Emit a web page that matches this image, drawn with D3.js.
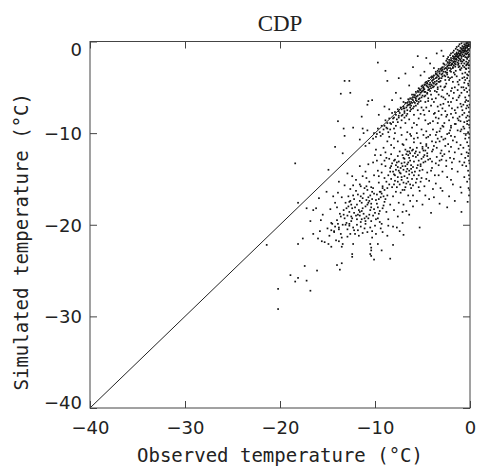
<!DOCTYPE html>
<html>
<head>
<meta charset="utf-8">
<script src="https://cdn.jsdelivr.net/npm/d3@7"></script>
<style>
  body { margin: 0; background: #fff; }
  svg text { fill: #222; }
</style>
</head>
<body>
<svg id="chart" width="477" height="476"></svg>
<script>
const title = "CDP";
const xLabel = "Observed temperature (\u00B0C)";
const yLabel = "Simulated temperature (\u00B0C)";
const obsTicks = [-40, -30, -20, -10, 0];
const simTicks = [-40, -30, -20, -10, 0];
const oneToOne = [[-40, -40], [0, 0]];

// [observed, simulated] pairs
const cornerPts = [[-0.1,0.2],[-0.2,0.1],[-0.3,-0.1],[-0.1,-0.3],[-0.4,-0.2],[-0.5,-0.4],[-0.2,-0.5],[-0.6,-0.3],[-0.7,-0.6],[-0.3,-0.7],[-0.8,-0.5],[-0.9,-0.9],[-0.5,-0.8],[-1.0,-0.7],[-1.1,-1.0],[-0.6,-1.1],[-1.2,-1.3],[-1.3,-0.9],[-0.8,-1.4],[-1.4,-1.2],[-1.5,-1.6],[-1.0,-1.5],[-1.6,-1.4],[-1.7,-1.9],[-1.2,-1.8],[-1.8,-1.6],[-1.9,-2.1],[-1.4,-2.0],[-2.0,-1.8],[-2.1,-2.3],[-1.6,-2.4],[-2.2,-2.0],[-2.3,-2.6],[-0.1,-0.8],[-0.2,-1.2],[-0.1,-1.6],[-0.3,-1.9],[-0.2,-2.3],[-0.4,-1.4],[-0.5,-1.7],[-0.7,-2.0],[-0.9,-2.4],[-0.4,-2.6],[-0.6,-2.8],[-1.1,-2.7],[-0.3,0.0],[-0.6,0.1],[-0.9,-0.2],[-1.2,-0.5],[-1.5,-0.8],[-1.8,-1.2],[-2.1,-1.5],[-2.4,-1.9],[-0.05,-0.05],[-0.15,-0.35],[-0.35,-0.45],[-0.45,-0.65],[-0.65,-0.75],[-0.75,-0.95],[-0.85,-1.15],[-0.95,-1.25],[-1.05,-1.35],[-1.15,-1.55],[-1.25,-1.65],[-1.35,-1.45],[-1.45,-1.85],[-1.55,-1.95],[-1.65,-2.15],[-1.75,-2.25],[-1.85,-2.45],[-1.95,-2.55],[-0.25,-0.15],[-0.55,-0.55],[-0.85,-0.75],[-1.15,-1.05],[-1.45,-1.35],[-1.75,-1.65],[-2.05,-2.05],[-2.35,-2.25],[-0.1,-0.5],[-0.3,-1.0],[-0.5,-1.3],[-0.7,-1.6],[-0.2,-1.7],[-0.1,-2.1],[-0.4,-2.2],[-0.8,-2.2],[-1.3,-2.3],[-1.0,-2.0],[-0.6,-2.4],[-0.05,-1.0],[-0.05,-1.4],[-0.15,-2.6],[-0.2,0.25],[-0.5,0.15],[-0.8,0.0],[-1.1,-0.3],[-1.4,-0.6],[-1.7,-1.0],[-2.0,-1.3],[-2.3,-1.7],[-2.5,-2.1]];

const lineBand = [[-2.6,-2.9],[-2.7,-2.5],[-2.8,-3.3],[-2.9,-2.8],[-3.0,-3.6],[-3.1,-3.0],[-3.2,-3.5],[-3.3,-4.1],[-3.4,-3.2],[-3.5,-3.9],[-3.6,-3.5],[-3.7,-4.4],[-3.8,-3.7],[-3.9,-4.2],[-4.0,-4.8],[-4.1,-3.9],[-4.2,-4.5],[-4.3,-5.2],[-4.4,-4.3],[-4.5,-4.9],[-4.6,-4.4],[-4.7,-5.5],[-4.8,-4.7],[-4.9,-5.3],[-5.0,-5.9],[-5.1,-4.9],[-5.2,-5.6],[-5.3,-5.2],[-5.4,-6.3],[-5.5,-5.4],[-5.6,-6.0],[-5.7,-5.5],[-5.8,-6.7],[-5.9,-5.8],[-6.0,-6.4],[-6.1,-5.8],[-6.2,-7.0],[-6.3,-6.2],[-6.4,-6.9],[-6.5,-6.3],[-6.6,-7.5],[-6.8,-6.7],[-6.9,-7.3],[-7.0,-6.6],[-7.1,-8.0],[-7.3,-7.2],[-7.4,-7.8],[-7.6,-7.4],[-7.7,-8.5],[-7.9,-7.7],[-8.0,-8.3],[-8.2,-7.8],[-8.3,-9.0],[-8.5,-8.4],[-8.7,-8.9],[-8.9,-8.6],[-9.1,-9.6],[-9.3,-9.2],[-9.5,-9.9],[-9.7,-9.5],[-9.9,-10.4],[-10.1,-10.0],[-2.5,-3.4],[-2.6,-3.8],[-2.8,-2.4],[-3.0,-2.9],[-3.2,-4.4],[-3.3,-3.0],[-3.5,-4.6],[-3.6,-3.3],[-3.8,-4.9],[-4.0,-3.8],[-4.1,-5.1],[-4.3,-4.0],[-4.5,-5.7],[-4.7,-4.5],[-4.8,-6.0],[-5.0,-4.8],[-5.2,-6.5],[-5.4,-5.1],[-5.5,-6.8],[-5.7,-6.2],[-5.9,-7.1],[-6.1,-6.7],[-6.3,-7.6],[-6.5,-6.9],[-6.7,-8.1],[-6.9,-7.6],[-7.2,-8.6],[-7.5,-8.1],[-7.8,-9.2],[-8.1,-8.8],[-8.4,-9.6],[-8.8,-9.4],[-9.2,-10.1],[-2.9,-3.5],[-3.4,-3.7],[-3.9,-4.5],[-4.4,-5.0],[-4.9,-5.0],[-5.3,-5.8],[-5.8,-6.1],[-6.2,-6.6],[-6.6,-7.0],[-7.0,-7.3],[-7.5,-7.6]];

const lineBand2 = [[-0.3,-0.6],[-0.7,-1.2],[-1.0,-1.1],[-1.3,-1.7],[-1.6,-1.8],[-1.9,-2.4],[-2.2,-2.4],[-2.4,-3.1],[-2.7,-3.0],[-3.0,-3.2],[-3.3,-3.8],[-3.6,-4.0],[-3.9,-3.9],[-4.2,-4.9],[-4.5,-4.6],[-4.8,-5.2],[-5.1,-5.5],[-5.4,-5.5],[-5.7,-6.4],[-6.0,-6.1],[-6.3,-6.8],[-6.6,-6.7],[-6.9,-7.8],[-7.2,-7.4],[-7.5,-8.3],[-7.8,-8.0],[-8.1,-8.4],[-8.4,-8.9],[-8.7,-9.5],[-9.0,-9.2],[-9.4,-10.3],[-9.8,-10.1],[-10.2,-10.6],[-10.6,-11.1],[-11.0,-11.4],[-1.1,-1.9],[-1.5,-2.2],[-1.8,-2.8],[-2.1,-2.9],[-2.4,-2.7],[-0.5,-1.0],[-0.9,-1.6],[-1.2,-2.4],[-1.7,-2.6],[-2.0,-3.3],[-2.3,-3.9],[-2.6,-4.2],[-3.1,-4.3],[-3.4,-5.0],[-3.7,-5.4],[-4.1,-5.8],[-4.4,-6.2],[-4.7,-6.6],[-5.1,-7.2],[-5.5,-7.5],[-5.9,-8.0],[-6.4,-8.5],[-6.8,-8.9],[-7.3,-9.4],[-7.9,-10.0],[-8.5,-10.4],[-2.2,-2.6],[-2.5,-2.9],[-2.9,-3.1],[-3.2,-3.3],[-3.5,-3.6],[-3.8,-4.1],[-4.0,-4.3],[-4.3,-4.7],[-4.6,-4.8],[-4.9,-5.1],[-5.2,-5.3],[-5.5,-5.9],[-5.8,-5.9],[-6.1,-6.3],[-6.4,-6.6],[-6.7,-7.2],[-7.0,-7.1]];

const nearExtra = [[-0.2,-0.9],[-0.4,-1.1],[-0.6,-1.5],[-0.9,-1.8],[-1.2,-2.1],[-1.5,-2.5],[-1.8,-2.9],[-2.1,-3.2],[-2.4,-3.4],[-2.7,-3.7],[-3.0,-4.0],[-3.3,-4.4],[-3.6,-4.7],[-3.9,-5.0],[-4.2,-5.4],[-4.5,-5.6],[-4.8,-5.5],[-5.1,-6.1],[-5.4,-6.6],[-5.7,-7.0],[-6.0,-7.3],[-6.3,-7.2],[-6.6,-7.9],[-6.9,-8.3],[-7.2,-8.1],[-7.6,-8.8],[-8.0,-9.5],[-8.6,-9.9],[-0.3,-1.3],[-0.7,-1.0],[-1.1,-1.4],[-1.4,-1.6],[-1.7,-2.2],[-2.0,-2.6],[-2.3,-2.9],[-2.6,-3.3],[-2.9,-3.8],[-3.2,-4.0],[-3.5,-4.3],[-3.8,-4.6],[-4.1,-4.7],[-4.4,-5.3],[-4.7,-5.9],[-5.0,-5.4],[-5.3,-6.2],[-5.6,-6.5],[-5.9,-6.6],[-6.2,-7.4],[-1.0,-3.1],[-1.6,-3.6],[-2.1,-4.0],[-0.5,-4.2],[-1.3,-4.4],[-2.6,-4.9],[-3.4,-5.2],[-0.9,-5.0],[-1.7,-5.6],[-2.8,-6.1],[-4.0,-6.3],[-1.2,-6.1],[-2.0,-6.6],[-3.1,-6.9],[-4.6,-7.2],[-0.7,-6.9],[-1.6,-7.5],[-2.9,-7.3],[-3.7,-7.8],[-5.2,-7.9],[-1.0,-8.7],[-2.4,-8.0],[-3.4,-8.9],[-4.7,-8.6],[-5.9,-8.9],[-0.6,-9.5],[-2.1,-9.7],[-3.5,-9.9],[-4.9,-10.2],[-6.6,-9.9],[-0.25,-0.45],[-0.55,-0.95],[-0.15,-1.45],[-0.35,-1.75],[-0.65,-2.05],[-0.25,-2.45],[-0.95,-2.15],[-1.25,-2.55],[-0.75,-2.65],[-0.45,-2.95],[-1.55,-2.75],[-1.05,-3.05]];

const aboveLine = [[-9.7,-2.3],[-8.9,-3.2],[-8.7,-4.3],[-10.3,-6.4],[-10.7,-6.5],[-7.5,-4.0],[-6.8,-3.5],[-6.0,-2.8],[-5.5,-1.6],[-4.6,-1.8],[-4.2,-2.4],[-3.5,-1.3],[-3.0,-1.0],[-7.8,-5.6],[-8.2,-6.4],[-9.0,-7.1],[-5.2,-3.7],[-6.4,-4.8],[-7.3,-6.2],[-4.8,-3.3],[-9.6,-8.0],[-8.5,-7.4],[-2.8,-1.6],[-3.8,-2.9],[-11.4,-8.2],[-10.8,-6.9],[-13.2,-4.3],[-12.7,-4.3],[-13.6,-5.7],[-12.6,-5.6],[-13.9,-8.7],[-12.3,-9.4],[-13.3,-9.5],[-11.3,-9.5],[-10.8,-9.7],[-11.2,-10.0],[-11.6,-10.7],[-13.2,-10.3],[-14.2,-11.5],[-13.4,-12.2],[-18.4,-13.3]];

const belowLine = [[-1.5,-3.2],[-0.8,-3.5],[-1.9,-3.9],[-1.1,-4.2],[-2.5,-4.6],[-0.6,-4.5],[-1.6,-5.0],[-2.9,-5.3],[-0.9,-5.6],[-2.2,-5.9],[-3.6,-6.2],[-1.4,-6.4],[-0.5,-6.1],[-2.8,-6.8],[-4.1,-7.0],[-1.9,-7.3],[-3.3,-7.6],[-0.8,-7.5],[-4.8,-8.0],[-2.5,-8.2],[-1.2,-8.6],[-3.9,-8.7],[-5.6,-9.1],[-2.0,-9.2],[-3.1,-9.5],[-4.6,-9.8],[-0.7,-9.3],[-6.3,-10.1],[-1.6,-10.4],[-2.8,-10.7],[-4.0,-10.9],[-5.2,-11.1],[-7.1,-11.2],[-3.5,-11.6],[-1.0,-11.3],[-2.2,-12.0],[-6.0,-11.8],[-4.5,-12.2],[-1.7,-12.8],[-3.0,-12.9],[-5.4,-13.0],[-2.5,-13.6],[-0.6,-13.2],[-4.0,-13.8],[-1.3,-14.2],[-3.3,-14.6],[-2.0,-15.1],[-4.6,-15.0],[-1.0,-15.9],[-2.9,-16.3],[-3.8,-17.0],[-1.6,-17.4],[-2.4,-18.1],[-0.9,-18.6],[-1.2,-2.8],[-2.0,-3.0],[-0.4,-3.0],[-2.4,-3.6],[-1.8,-4.4],[-0.3,-4.0],[-3.1,-4.9],[-2.0,-5.4],[-1.3,-5.3],[-0.4,-5.1],[-3.3,-5.8],[-2.6,-6.3],[-1.0,-6.8],[-3.8,-6.6],[-0.3,-7.0],[-2.2,-7.0],[-1.5,-7.8],[-3.0,-8.0],[-4.3,-7.6],[-0.4,-8.3],[-1.8,-8.3],[-3.6,-8.3],[-2.7,-8.9],[-4.4,-9.0],[-1.3,-9.7],[-5.1,-9.6],[-2.4,-10.1],[-3.6,-10.2],[-5.9,-10.6],[-0.5,-10.6],[-4.6,-10.5]];

const belowLine2 = [[-0.9,-2.9],[-1.7,-3.4],[-0.3,-3.6],[-1.4,-3.8],[-2.2,-4.2],[-0.8,-4.0],[-1.2,-4.7],[-2.7,-5.0],[-0.2,-4.6],[-1.9,-5.1],[-3.5,-5.5],[-0.6,-5.3],[-2.4,-5.7],[-1.1,-5.9],[-3.0,-6.0],[-0.4,-6.4],[-1.8,-6.2],[-4.4,-6.5],[-2.3,-6.6],[-0.9,-7.1],[-3.4,-7.1],[-1.3,-7.2],[-2.6,-7.6],[-4.9,-7.5],[-0.6,-7.8],[-3.8,-7.9],[-2.0,-7.9],[-1.1,-8.2],[-5.4,-8.4],[-3.3,-8.4],[-2.2,-8.6],[-0.3,-8.7],[-4.2,-8.9],[-1.6,-9.0],[-6.1,-9.4],[-2.9,-9.2],[-3.9,-9.6],[-1.0,-9.8],[-5.6,-10.0],[-2.0,-10.3],[-4.4,-10.4],[-3.2,-10.9],[-6.7,-10.7],[-1.4,-11.0],[-2.6,-11.4],[-5.0,-11.5],[-4.0,-12.0],[-0.9,-12.3],[-6.4,-12.0],[-2.9,-12.5],[-1.9,-13.2],[-4.7,-13.1],[-3.6,-13.3],[-7.6,-10.9],[-8.3,-11.3],[-7.2,-10.2],[-8.7,-10.9],[-9.1,-11.6],[-8.0,-10.6],[-9.4,-12.4]];

const edgeCol = [[-0.1,-3.3],[-0.2,-3.7],[-0.05,-4.3],[-0.15,-4.8],[-0.3,-5.5],[-0.1,-5.9],[-0.2,-6.5],[-0.05,-6.9],[-0.4,-7.3],[-0.1,-7.7],[-0.25,-8.1],[-0.1,-8.6],[-0.3,-9.0],[-0.05,-9.4],[-0.2,-9.9],[-0.45,-10.2],[-0.1,-10.5],[-0.3,-11.0],[-0.15,-11.4],[-0.05,-11.8],[-0.35,-12.1],[-0.2,-12.5],[-0.1,-13.0],[-0.4,-13.6],[-0.2,-14.1],[-0.1,-14.6],[-0.3,-15.3],[-0.15,-16.0],[-0.1,-16.8],[-0.25,-17.5],[-0.6,-3.9],[-0.7,-5.0],[-0.5,-6.6],[-0.8,-8.0],[-0.6,-8.8],[-0.9,-9.6],[-0.7,-11.6],[-0.5,-12.7],[-0.8,-13.5],[-0.6,-14.8],[-0.9,-16.5],[-0.15,-2.9],[-0.35,-2.5],[-0.05,-2.6],[-0.5,-3.4],[-0.05,-5.3],[-0.15,-7.2],[-0.05,-8.2],[-0.1,-9.1],[-0.05,-10.1],[-0.15,-12.2],[-0.05,-13.3],[-0.05,-15.0],[-0.05,-16.2]];

const cloudA = [[-7.0,-14.0],[-6.8,-13.6],[-7.3,-14.4],[-6.5,-13.2],[-7.6,-14.8],[-6.2,-13.9],[-7.8,-13.5],[-6.9,-12.8],[-7.2,-15.1],[-6.4,-14.5],[-8.1,-14.2],[-5.9,-13.1],[-7.5,-13.1],[-6.6,-14.9],[-8.3,-15.0],[-5.7,-12.6],[-7.9,-12.9],[-6.1,-14.3],[-8.6,-14.6],[-5.5,-13.5],[-7.1,-12.4],[-6.3,-12.2],[-8.0,-15.6],[-6.7,-15.5],[-8.8,-15.3],[-5.3,-12.1],[-7.4,-12.0],[-6.0,-12.5],[-8.4,-13.8],[-5.8,-14.2],[-7.7,-15.9],[-6.9,-16.2],[-9.0,-14.9],[-5.1,-12.8],[-7.2,-13.3],[-6.6,-13.9],[-8.2,-13.3],[-6.4,-12.7],[-7.0,-15.4],[-5.6,-13.8],[-8.7,-16.0],[-6.1,-15.0],[-7.6,-12.5],[-6.8,-11.8],[-8.5,-12.8],[-5.4,-14.6],[-9.2,-15.8],[-6.3,-11.6],[-7.9,-14.6],[-6.0,-15.7],[-8.9,-13.6],[-5.0,-11.7],[-7.3,-16.5],[-4.8,-12.4],[-6.5,-16.8],[-9.4,-16.4],[-4.6,-11.2],[-8.1,-16.9],[-5.2,-15.3],[-7.0,-11.3],[-9.6,-14.7],[-5.9,-11.0],[-4.4,-12.9],[-6.7,-12.3],[-7.5,-14.1],[-6.2,-13.5],[-7.8,-14.0],[-6.9,-14.7],[-7.3,-13.8],[-6.6,-13.4]];

const cloudA2 = [[-7.4,-14.3],[-6.7,-14.2],[-7.1,-13.6],[-6.3,-13.0],[-7.7,-13.2],[-6.0,-13.7],[-8.0,-14.5],[-6.5,-15.3],[-7.4,-15.6],[-5.8,-12.2],[-8.5,-15.6],[-6.2,-16.0],[-9.0,-16.2],[-5.5,-12.4],[-8.3,-12.3],[-7.0,-12.7],[-6.8,-15.9],[-5.2,-13.4],[-9.3,-14.3],[-4.9,-13.2],[-8.8,-12.7],[-6.1,-11.9],[-7.8,-16.4],[-5.6,-15.0],[-9.6,-15.4],[-4.7,-11.9],[-8.0,-13.0],[-6.9,-13.2],[-7.6,-13.7],[-6.4,-14.1],[-7.2,-14.8],[-8.4,-14.2],[-5.9,-14.6],[-6.6,-12.0],[-7.9,-15.2],[-5.3,-14.1],[-9.8,-16.7],[-4.5,-12.5],[-3.9,-11.8],[-4.2,-12.8]];

const cloudB = [[-11.0,-18.0],[-10.7,-17.6],[-11.4,-18.5],[-10.3,-17.2],[-11.8,-18.9],[-10.1,-18.3],[-11.6,-17.4],[-10.9,-19.1],[-12.1,-18.1],[-10.5,-16.8],[-12.4,-19.3],[-9.8,-17.7],[-11.2,-16.6],[-12.7,-18.6],[-9.6,-18.8],[-11.9,-20.0],[-10.4,-19.6],[-13.0,-19.8],[-9.4,-17.0],[-12.2,-17.2],[-10.8,-16.2],[-13.3,-18.4],[-9.9,-19.4],[-11.5,-19.7],[-12.9,-20.5],[-10.2,-16.0],[-13.6,-19.1],[-9.2,-18.2],[-11.1,-20.4],[-12.5,-17.8],[-10.6,-18.9],[-13.8,-20.3],[-9.5,-16.4],[-12.0,-16.3],[-11.3,-17.1],[-10.0,-20.1],[-13.1,-17.6],[-12.6,-21.0],[-9.0,-17.5],[-14.0,-19.5],[-10.9,-15.8],[-11.7,-21.2],[-14.3,-20.8],[-9.3,-19.9],[-12.8,-16.9],[-10.3,-20.7],[-13.5,-21.4],[-11.6,-15.6],[-14.5,-19.9],[-8.8,-18.6],[-12.3,-20.3],[-10.7,-17.0],[-11.2,-18.8],[-10.5,-18.4],[-11.9,-17.8],[-11.4,-19.4],[-12.0,-19.0],[-10.9,-17.3],[-13.2,-19.3],[-12.7,-19.9],[-10.0,-18.7],[-9.7,-18.1],[-11.1,-19.3],[-12.4,-18.2],[-13.7,-18.8],[-14.8,-21.2],[-15.0,-20.4],[-14.1,-21.7],[-15.3,-21.9],[-13.4,-22.1]];

const cloudB2 = [[-10.8,-17.8],[-11.3,-18.2],[-10.4,-18.1],[-11.7,-18.4],[-10.6,-17.4],[-12.2,-18.7],[-11.0,-19.6],[-10.2,-19.0],[-12.5,-19.6],[-9.9,-17.3],[-11.5,-16.9],[-12.9,-19.0],[-9.5,-18.5],[-11.9,-19.4],[-10.5,-20.3],[-13.4,-20.0],[-9.1,-17.9],[-12.3,-16.8],[-11.8,-20.6],[-13.0,-18.2],[-10.1,-16.6],[-13.9,-19.9],[-12.6,-17.4],[-11.1,-16.0],[-9.7,-19.3],[-14.2,-20.2],[-12.1,-21.0],[-10.8,-20.8],[-13.6,-21.0],[-11.4,-17.6],[-10.3,-16.4],[-12.8,-18.0],[-11.6,-19.0],[-9.3,-16.6],[-14.6,-20.6],[-13.3,-18.9]];

const cloudFill = [[-2.0,-9.4],[-2.6,-10.6],[-3.2,-9.8],[-3.8,-11.4],[-4.2,-10.2],[-4.9,-11.9],[-5.5,-10.5],[-3.0,-11.9],[-4.0,-13.1],[-2.3,-11.2],[-5.0,-14.0],[-3.5,-12.6],[-1.8,-10.8],[-2.7,-12.3],[-4.5,-14.3],[-6.2,-10.3],[-1.5,-9.0],[-3.3,-13.5],[-5.7,-15.4],[-2.1,-12.7],[-4.3,-15.2],[-1.2,-11.7],[-3.9,-16.1],[-5.3,-16.3],[-2.9,-14.2],[-6.3,-17.4],[-4.7,-16.8],[-1.9,-13.9],[-7.5,-17.6],[-3.6,-15.5],[-8.4,-17.8],[-6.0,-18.0],[-9.1,-16.9],[-7.1,-18.6],[-8.0,-11.6],[-9.3,-13.4],[-8.9,-12.1],[-10.1,-14.6],[-9.8,-13.0],[-10.6,-15.3],[-11.3,-14.7],[-10.0,-12.4],[-12.0,-15.1],[-11.6,-13.6],[-12.6,-16.1],[-13.2,-15.7],[-12.9,-14.4],[-13.9,-16.5],[-14.2,-17.6],[-13.5,-17.0],[-14.7,-18.3],[-15.1,-16.4],[-14.9,-14.0],[-15.5,-18.9],[-16.2,-18.2],[-16.5,-18.4],[-17.2,-18.2],[-18.1,-17.6],[-8.6,-19.4],[-7.6,-19.1],[-9.9,-21.0],[-8.1,-20.2],[-7.7,-20.3],[-8.6,-20.1],[-9.5,-19.7],[-7.1,-19.8],[-5.3,-20.3],[-9.2,-20.8],[-7.0,-21.1],[-10.3,-21.4],[-9.7,-22.1],[-8.1,-22.2],[-10.5,-22.1],[-10.4,-22.5],[-10.4,-22.8],[-10.5,-23.2],[-10.4,-23.4],[-9.3,-22.8],[-10.1,-23.8],[-8.4,-23.7],[-6.4,-18.9],[-5.0,-17.8],[-4.1,-18.7],[-2.2,-16.9],[-14.6,-19.8],[-13.1,-20.0],[-12.2,-20.6],[-11.5,-20.2],[-11.0,-19.9],[-13.8,-20.5],[-12.7,-20.1],[-14.3,-20.7]];

const cloudFill2 = [[-1.3,-8.4],[-2.8,-9.3],[-3.4,-10.6],[-2.0,-11.5],[-4.6,-11.4],[-3.1,-12.2],[-5.6,-11.6],[-1.6,-12.1],[-4.1,-14.1],[-2.5,-13.0],[-5.1,-14.9],[-3.7,-14.6],[-1.1,-13.1],[-2.4,-14.8],[-4.8,-15.8],[-3.1,-16.0],[-6.0,-16.8],[-1.8,-15.6],[-5.6,-17.4],[-4.3,-17.2],[-7.0,-17.8],[-3.2,-17.7],[-6.7,-18.5],[-8.0,-18.4],[-9.4,-20.4],[-8.7,-21.2],[-7.4,-20.7],[-9.9,-11.8],[-10.7,-13.4],[-11.5,-15.8],[-12.4,-14.7],[-13.8,-15.3],[-14.4,-16.9],[-15.9,-17.1],[-15.7,-19.5],[-16.8,-19.6],[-14.0,-18.1],[-12.3,-15.7],[-10.2,-13.2],[-11.0,-14.2]];

const cloudExtra = [[-3.0,-10.4],[-4.4,-11.6],[-5.7,-12.0],[-3.6,-11.0],[-2.2,-10.0],[-4.9,-12.6],[-6.5,-12.4],[-3.2,-13.0],[-5.2,-13.6],[-7.6,-15.3],[-8.2,-15.9],[-8.7,-16.8],[-9.6,-17.2],[-10.4,-17.7],[-9.2,-16.0],[-8.9,-17.2],[-7.1,-16.2],[-6.3,-15.6],[-5.4,-15.9],[-10.7,-19.3],[-11.6,-18.6],[-12.5,-19.1],[-11.3,-20.9],[-12.9,-21.3],[-13.8,-21.8],[-14.6,-22.4],[-15.8,-20.7],[-8.3,-13.6],[-9.0,-13.0],[-9.7,-14.1],[-10.4,-15.9],[-10.9,-14.9],[-11.8,-16.7],[-12.7,-17.5]];

const outliers = [[-21.4,-22.2],[-17.6,-21.5],[-18.1,-22.1],[-16.0,-21.5],[-15.6,-21.8],[-16.5,-21.0],[-14.9,-22.1],[-13.5,-22.4],[-12.3,-22.1],[-12.4,-23.2],[-12.4,-23.5],[-14.0,-24.4],[-13.5,-24.2],[-13.7,-24.9],[-17.4,-24.5],[-16.1,-25.0],[-18.9,-25.5],[-18.1,-25.8],[-18.4,-26.2],[-17.2,-26.1],[-16.8,-27.2],[-20.2,-27.0],[-20.2,-29.2]];

const points = [].concat(cornerPts, lineBand, lineBand2, nearExtra, aboveLine, belowLine, belowLine2, edgeCol,
    cloudA, cloudA2, cloudB, cloudB2, cloudFill, cloudFill2, cloudExtra, outliers);

const svg = d3.select("#chart");
const margin = { top: 41.5, right: 7, bottom: 68, left: 90 };
const width = +svg.attr("width") - margin.left - margin.right;
const height = +svg.attr("height") - margin.top - margin.bottom;

const x = d3.scaleLinear().domain([-40, 0]).range([0, width]);
const y = d3.scaleLinear().domain([-40, 0]).range([height, 0]);

const g = svg.append("g")
    .attr("transform", "translate(" + margin.left + "," + margin.top + ")");

g.append("defs").append("clipPath").attr("id", "plotclip")
    .append("rect").attr("width", width).attr("height", height);

// points
g.append("g")
    .attr("clip-path", "url(#plotclip)")
    .selectAll("rect")
    .data(points)
    .enter().append("rect")
    .attr("x", d => x(d[0]) - 0.85)
    .attr("y", d => y(d[1]) - 0.85)
    .attr("width", 1.7)
    .attr("height", 1.7)
    .attr("fill", "#111");

// 1:1 line
g.append("path")
    .datum(oneToOne)
    .attr("d", d3.line().x(d => x(d[0])).y(d => y(d[1])))
    .attr("fill", "none")
    .attr("stroke", "#222")
    .attr("stroke-width", 1);

// frame
g.append("rect")
    .attr("width", width)
    .attr("height", height)
    .attr("fill", "none")
    .attr("stroke", "#444")
    .attr("stroke-width", 1);

const tickFont = "DejaVu Sans, sans-serif";

const xAxis = g.append("g")
    .attr("transform", "translate(0," + height + ")")
    .call(d3.axisBottom(x).tickValues(obsTicks).tickSizeInner(-7).tickSizeOuter(0).tickPadding(13));

const yAxis = g.append("g")
    .call(d3.axisLeft(y).tickValues(simTicks).tickSizeInner(-7).tickSizeOuter(0).tickPadding(8));

g.append("g")
    .call(d3.axisTop(x).tickValues(obsTicks).tickSizeInner(-7).tickSizeOuter(0).tickFormat(""));

g.append("g")
    .attr("transform", "translate(" + width + ",0)")
    .call(d3.axisRight(y).tickValues(simTicks).tickSizeInner(-7).tickSizeOuter(0).tickFormat(""));

g.selectAll(".domain").remove();
g.selectAll(".tick line").attr("stroke", "#444");
g.selectAll(".tick text")
    .attr("font-family", tickFont)
    .attr("font-size", 18)
    .attr("fill", "#222");

// end labels on the y axis sit inside the frame
yAxis.selectAll(".tick text")
    .attr("dy", d => d === 0 ? "0.75em" : (d === -40 ? "0.05em" : "0.35em"));

svg.append("text")
    .attr("x", margin.left + width / 2)
    .attr("y", 31)
    .attr("text-anchor", "middle")
    .attr("font-family", "Liberation Serif, serif")
    .attr("font-size", 23)
    .text(title);

svg.append("text")
    .attr("x", margin.left + width / 2)
    .attr("y", 462)
    .attr("text-anchor", "middle")
    .attr("font-family", "DejaVu Sans Mono, monospace")
    .attr("font-size", 19)
    .text(xLabel);

svg.append("text")
    .attr("transform", "translate(28," + (margin.top + height / 2 + 17) + ") rotate(-90)")
    .attr("text-anchor", "middle")
    .attr("font-family", "DejaVu Sans Mono, monospace")
    .attr("font-size", 19)
    .text(yLabel);
</script>
</body>
</html>
